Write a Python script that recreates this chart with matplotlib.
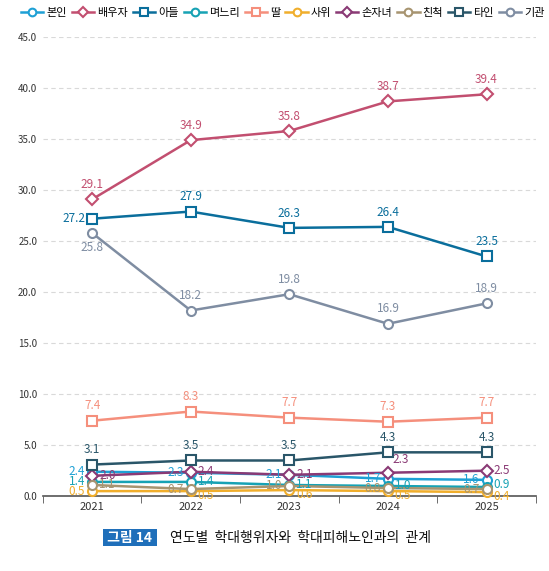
import matplotlib
matplotlib.use("Agg")
import matplotlib.pyplot as plt

plt.rcParams['font.family'] = ['Noto Sans CJK KR', 'DejaVu Sans']

years = ['2021', '2022', '2023', '2024', '2025']
names = ['본인', '배우자', '아들', '며느리', '딸', '사위', '손자녀', '친척', '타인', '기관']

bonin = [2.4, 2.3, 2.1, 1.7, 1.6]
spouse = [29.1, 34.9, 35.8, 38.7, 39.4]
son = [27.2, 27.9, 26.3, 26.4, 23.5]
daughter_in_law = [1.4, 1.4, 1.1, 1.0, 0.9]
daughter = [7.4, 8.3, 7.7, 7.3, 7.7]
son_in_law = [0.5, 0.5, 0.6, 0.5, 0.4]
grandchild = [2.0, 2.4, 2.1, 2.3, 2.5]
relative = [1.1, 0.7, 1.0, 0.8, 0.7]
stranger = [3.1, 3.5, 3.5, 4.3, 4.3]
institution = [25.8, 18.2, 19.8, 16.9, 18.9]

series = [bonin, spouse, son, daughter_in_law, daughter, son_in_law,
          grandchild, relative, stranger, institution]

colors = ['#1ea0d5', '#c24f70', '#0a6e9c', '#17a2b4', '#f58f7c',
          '#f0ae2c', '#8a3a75', '#a79470', '#2a5669', '#7f8da2']
markers = ['o', 'D', 's', 'o', 's', 'o', 'D', 'o', 's', 'o']

# label placement per point: u=above, d=below, l=left, r=right, rd=right-below, ur=above-right
U, D, L, R, RD, UR, RU = 'u', 'd', 'l', 'r', 'rd', 'ur', 'ru'
places = [
    [L, L, L, L, L],
    [U, U, U, U, U],
    [L, U, U, U, U],
    [L, R, R, R, RU],
    [U, U, U, U, U],
    [L, RD, RD, RD, RD],
    [R, R, R, UR, R],
    [R, L, L, L, L],
    [U, U, U, U, U],
    [D, U, U, U, U],
]
offs = {
    'u': ((0, 6), 'center', 'bottom'),
    'd': ((0, -6), 'center', 'top'),
    'l': ((-5, 0), 'right', 'center'),
    'r': ((5, 0), 'left', 'center'),
    'ru': ((5, 2), 'left', 'center'),
    'rd': ((5, -3), 'left', 'center'),
    'ur': ((3, 5), 'left', 'bottom'),
}

fig = plt.figure(figsize=(5.49, 5.71), dpi=100)
ax = fig.add_axes([0.078, 0.131, 0.898, 0.804])

x = list(range(len(years)))
for vals, name, c, m, pl in zip(series, names, colors, markers, places):
    ms = 6 if m == 'D' else 6.5
    ax.plot(x, vals, color=c, lw=1.8, marker=m, ms=ms, mfc='white',
            mec=c, mew=1.5, label=name, zorder=3, clip_on=False)
    for xi, v, p in zip(x, vals, pl):
        (dx, dy), ha, va = offs[p]
        ax.annotate(f'{v:.1f}', (xi, v), xytext=(dx, dy), textcoords='offset points',
                    ha=ha, va=va, fontsize=8.5, color=c, zorder=4)

ax.set_xlim(-0.5, 4.5)
ax.set_ylim(0, 45)
ax.set_yticks([i * 5 for i in range(10)])
ax.set_yticklabels([f'{i * 5:.1f}' for i in range(10)], fontsize=7, color='#333333')
ax.set_xticks(x)
ax.set_xticklabels(years, fontsize=8, color='#333333')
ax.set_xticks([i - 0.5 for i in range(6)], minor=True)
ax.tick_params(axis='x', which='major', length=0, pad=4)
ax.tick_params(axis='x', which='minor', length=5, direction='out', color='#555555')
ax.tick_params(axis='y', length=0, pad=4)
ax.grid(axis='y', color='#d9d9d9', ls=(0, (4, 3)), lw=0.8)
ax.set_axisbelow(True)
for s in ['top', 'right', 'left']:
    ax.spines[s].set_visible(False)
ax.spines['bottom'].set_color('#555555')
ax.spines['bottom'].set_linewidth(1.2)

fig.legend(loc='upper center', bbox_to_anchor=(0.515, 1.0), ncol=10, frameon=False,
           fontsize=8, handlelength=2.0, handletextpad=0.25, columnspacing=0.48,
           markerscale=0.85, borderaxespad=0.3)

fig.text(0.19, 0.058, ' 그림 14 ', fontsize=10, color='white', fontweight='bold',
         ha='left', va='center',
         bbox=dict(boxstyle='square,pad=0.1', fc='#1f6fba', ec='none'))
fig.text(0.31, 0.058, '연도별  학대행위자와  학대피해노인과의  관계', fontsize=10,
         color='#111111', ha='left', va='center')

fig.savefig('out.png', dpi=100)
